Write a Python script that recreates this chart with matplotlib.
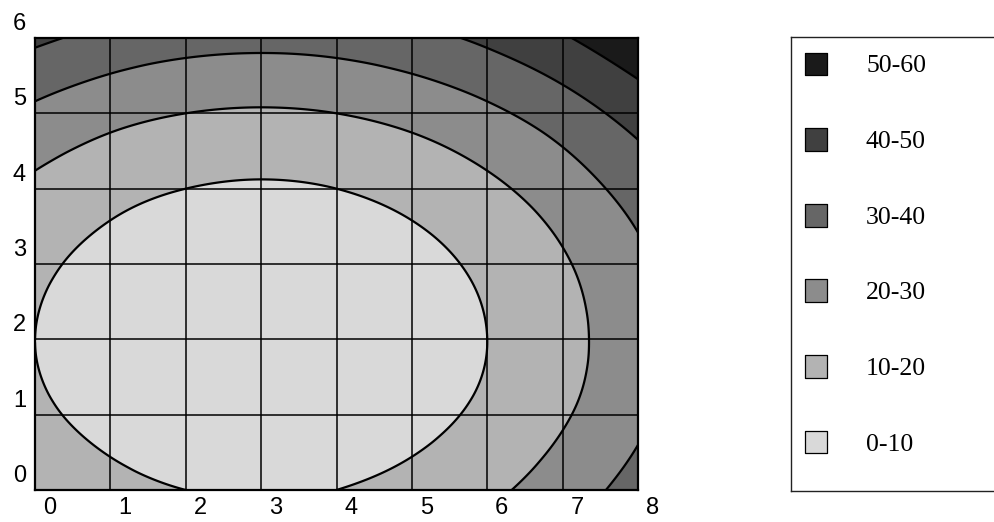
import numpy as np
import matplotlib.pyplot as plt
import matplotlib.tri as mtri
from matplotlib.transforms import ScaledTranslation

# grid nodes of the surface
x_nodes = np.arange(9)
y_nodes = np.arange(7)

# surface values read at the grid nodes, one row per y (0 .. 6)
z_rows = [
    [18, 13, 10, 9, 10, 13, 18, 25, 34],
    [12, 7, 4, 3, 4, 7, 12, 19, 28],
    [10, 5, 2, 1, 2, 5, 10, 17, 26],
    [12, 7, 4, 3, 4, 7, 12, 19, 28],
    [18, 13, 10, 9, 10, 13, 18, 25, 34],
    [28, 23, 20, 19, 20, 23, 28, 35, 44],
    [42, 37, 34, 33, 34, 37, 42, 49, 58],
]

levels = [0, 10, 20, 30, 40, 50, 60]
band_labels = ['0-10', '10-20', '20-30', '30-40', '40-50', '50-60']
band_colors = ['#d9d9d9', '#b3b3b3', '#8c8c8c', '#666666', '#404040', '#1a1a1a']
x_tick_labels = ['0', '1', '2', '3', '4', '5', '6', '7', '8']
y_tick_labels = ['0', '1', '2', '3', '4', '5', '6']

W, H = 994, 522
fig = plt.figure(figsize=(W / 100, H / 100), dpi=100)
ax = fig.add_axes([35 / W, 32 / H, 603 / W, 452 / H])

# smooth surface from the node values (library cubic interpolation)
X, Y = np.meshgrid(x_nodes, y_nodes)
tri = mtri.Triangulation(X.ravel(), Y.ravel())
z = np.array(z_rows, dtype=float).ravel()
interp = mtri.CubicTriInterpolator(tri, z, kind='min_E')
refiner = mtri.UniformTriRefiner(tri)
tri_f, z_f = refiner.refine_field(z, triinterpolator=interp, subdiv=5)

ax.tricontourf(tri_f, z_f, levels=levels, colors=band_colors, zorder=1)
ax.tricontour(tri_f, z_f, levels=levels[1:-1], colors='black',
              linewidths=1.6, zorder=3)

tick_font = dict(fontfamily='Liberation Sans', fontsize=17)
ax.set_xlim(x_nodes[0], x_nodes[-1])
ax.set_ylim(y_nodes[0], y_nodes[-1])
ax.set_xticks(x_nodes, x_tick_labels, **tick_font)
ax.set_yticks(y_nodes, y_tick_labels, **tick_font)
ax.tick_params(length=0)
ax.tick_params(axis='x', pad=5)
ax.tick_params(axis='y', pad=6.5)
ax.grid(True, color='black', linewidth=1.1, zorder=2)
ax.set_axisbelow(False)
for sp in ax.spines.values():
    sp.set_linewidth(1.6)
    sp.set_zorder(4)

# labels sit a little off the grid lines in the original
for lab in ax.get_xticklabels():
    lab.set_transform(lab.get_transform() + ScaledTranslation(0.145, 0, fig.dpi_scale_trans))
for lab in ax.get_yticklabels():
    lab.set_transform(lab.get_transform() + ScaledTranslation(0, 0.165, fig.dpi_scale_trans))

# legend box (runs off the right edge like the original)
lax = fig.add_axes([791 / W, 31 / H, 400 / W, 454 / H])
lax.set_xlim(0, 400)
lax.set_ylim(-0.648, 5.357)
lax.set_xticks([])
lax.set_yticks([])
for sp in lax.spines.values():
    sp.set_linewidth(1.0)
    sp.set_color('#222222')
idx = np.arange(len(band_labels))
lax.scatter(np.full(len(idx), 25), idx, marker='s', s=266, c=band_colors,
            edgecolors='black', linewidths=0.9)
for i, lab in zip(idx, band_labels):
    lax.text(75, i, lab, ha='left', va='center_baseline',
             fontfamily='Liberation Serif', fontsize=18.5)

fig.savefig('out.png', dpi=100)
